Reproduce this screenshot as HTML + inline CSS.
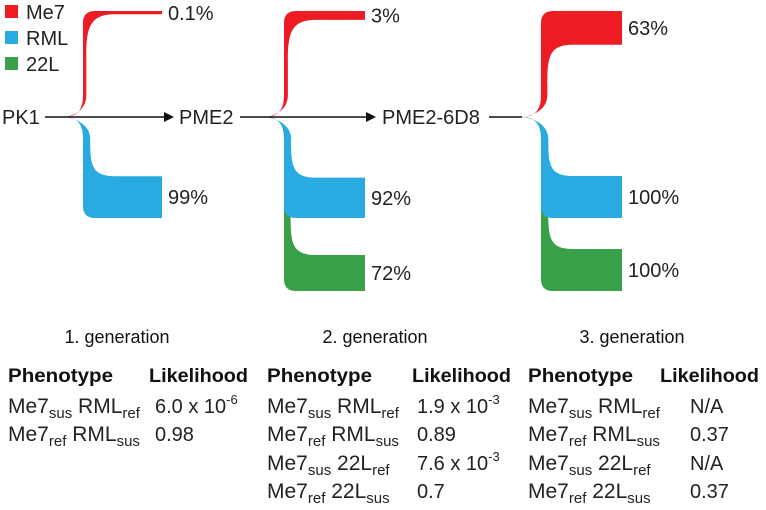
<!DOCTYPE html>
<html><head><meta charset="utf-8"><style>
html,body{margin:0;padding:0;background:#fff;}
svg{display:block;font-family:"Liberation Sans",sans-serif;}
</style></head><body>
<svg id="chart" width="766" height="510" viewBox="0 0 766 510">
  <g id="bands"></g>
  <g>
    <rect x="5" y="5" width="13" height="13" fill="#ed1c24"/>
    <text x="26" y="19" font-size="20" fill="#222">Me7</text>
    <rect x="5" y="31" width="13" height="13" fill="#29abe2"/>
    <text x="26" y="45" font-size="20" fill="#222">RML</text>
    <rect x="5" y="57" width="13" height="13" fill="#39a04a"/>
    <text x="26" y="71" font-size="20" fill="#222">22L</text>
  </g>
  <g stroke="#111" stroke-width="1.6">
    <line x1="45" y1="117" x2="166" y2="117"/>
    <polygon points="174,117 164,112 164,122" fill="#111" stroke="none"/>
    <line x1="240" y1="117" x2="368" y2="117"/>
    <polygon points="376,117 366,112 366,122" fill="#111" stroke="none"/>
    <line x1="489" y1="117" x2="522" y2="117"/>
  </g>
  <text x="2" y="124" font-size="20" fill="#222">PK1</text>
  <text x="179" y="124" font-size="20" fill="#222">PME2</text>
  <text x="382" y="124" font-size="20" fill="#222">PME2-6D8</text>
  <g id="pctlabels"></g>
  <g id="tables"></g>
</svg>
<script>
const generations = ["1. generation", "2. generation", "3. generation"];
const me7Pct = [0.1, 3, 63];
const rmlPct = [99, 92, 100];
const l22Pct = [null, 72, 100];
const me7Labels = ["0.1%", "3%", "63%"];
const rmlLabels = ["99%", "92%", "100%"];
const l22Labels = [null, "72%", "100%"];
const phenotypes = [
  [["Me7","sus","RML","ref"],["Me7","ref","RML","sus"]],
  [["Me7","sus","RML","ref"],["Me7","ref","RML","sus"],["Me7","sus","22L","ref"],["Me7","ref","22L","sus"]],
  [["Me7","sus","RML","ref"],["Me7","ref","RML","sus"],["Me7","sus","22L","ref"],["Me7","ref","22L","sus"]]
];
const likelihoods = [
  [["6.0 x 10","-6"],["0.98",""]],
  [["1.9 x 10","-3"],["0.89",""],["7.6 x 10","-3"],["0.7",""]],
  [["N/A",""],["0.37",""],["N/A",""],["0.37",""]]
];

const NS = "http://www.w3.org/2000/svg";
const originX = [62, 263, 520];
const endX = [162, 365, 622];
const Y0 = 117;
const thick = v => 2 + Math.sqrt(v) * 4;
const colors = {me7:"#ed1c24", rml:"#29abe2", l22:"#39a04a"};

function downBand(ox, ex, yb, t) {
  const v = 3 + t * 0.1, x1 = ox + 21;
  const top = yb - t;
  const sy = Math.max(138, top - 40);
  return `M${ox},${Y0} C${ox+14},${Y0} ${x1},${Y0+5} ${x1},${Y0+22} L${x1},${yb-12} Q${x1},${yb} ${x1+12},${yb} L${ex},${yb} L${ex},${top} L${x1+32},${top} C${x1+8},${top} ${x1+v},${top-12} ${x1+v},${sy} L${x1+v},${Y0+22} C${x1+v},${Y0+6} ${ox+10},${Y0} ${ox},${Y0} Z`;
}
function upBand(ox, ex, yt, t) {
  const v = 3 + t * 0.1, x1 = ox + 21;
  const bot = yt + t;
  const sy = Math.min(96, bot + 40);
  return `M${ox},${Y0} C${ox+14},${Y0} ${x1},${Y0-5} ${x1},${Y0-22} L${x1},${yt+12} Q${x1},${yt} ${x1+12},${yt} L${ex},${yt} L${ex},${bot} L${x1+32},${bot} C${x1+8},${bot} ${x1+v},${bot+12} ${x1+v},${sy} L${x1+v},${Y0-22} C${x1+v},${Y0-6} ${ox+10},${Y0} ${ox},${Y0} Z`;
}
const bands = document.getElementById("bands");
const pl = document.getElementById("pctlabels");
function addPath(d, fill, name) {
  const p = document.createElementNS(NS, "path");
  p.setAttribute("d", d); p.setAttribute("fill", fill);
  
  
  bands.appendChild(p);
}
function addLabel(x, y, txt, name) {
  const t = document.createElementNS(NS, "text");
  t.setAttribute("x", x); t.setAttribute("y", y); t.setAttribute("font-size", "20"); t.setAttribute("fill", "#222");
  t.textContent = txt;
  
  
  pl.appendChild(t);
}
for (let g = 0; g < generations.length; g++) {
  const ox = originX[g], ex = endX[g];
  if (l22Pct[g] !== null) {
    const t = thick(l22Pct[g]);
    addPath(downBand(ox, ex, 291, t), colors.l22, "band-22l-gen" + (g+1));
    addLabel(ex + 6, 291 - t/2 + 7, l22Labels[g], "label-22l-gen" + (g+1));
  }
  const tr = thick(rmlPct[g]);
  addPath(downBand(ox, ex, 218, tr), colors.rml, "band-rml-gen" + (g+1));
  addLabel(ex + 6, 218 - tr/2 + 7, rmlLabels[g], "label-rml-gen" + (g+1));
  const tm = thick(me7Pct[g]);
  addPath(upBand(ox, ex, 11, tm), colors.me7, "band-me7-gen" + (g+1));
  addLabel(ex + 6, Math.max(11 + tm/2 + 7, 20), me7Labels[g], "label-me7-gen" + (g+1));
}

const tables = document.getElementById("tables");
const genCenter = [117, 375, 632];
const phenoX = [8, 267, 528];
const headLikX = [149, 412, 660];
const valX = [155, 417, 690];
const rowY = [413, 441, 470, 498];
function txt(parent, x, y, size, weight, content, name) {
  const t = document.createElementNS(NS, "text");
  t.setAttribute("x", x); t.setAttribute("y", y); t.setAttribute("font-size", size);
  if (weight) t.setAttribute("font-weight", weight);
  t.setAttribute("fill", "#111");
  t.textContent = content;
  
  
  parent.appendChild(t);
  return t;
}
for (let g = 0; g < generations.length; g++) {
  const gl = txt(tables, genCenter[g], 343, 18, null, generations[g], "generation-title-" + (g+1));
  gl.setAttribute("text-anchor", "middle");
  const h1 = txt(tables, phenoX[g], 382, 19, "bold", "Phenotype", "header-phenotype-" + (g+1));
  h1.setAttribute("textLength", "105");
  h1.setAttribute("lengthAdjust", "spacingAndGlyphs");
  const h2 = txt(tables, headLikX[g], 382, 19, "bold", "Likelihood", "header-likelihood-" + (g+1));
  h2.setAttribute("textLength", "99");
  h2.setAttribute("lengthAdjust", "spacingAndGlyphs");
  phenotypes[g].forEach((ph, i) => {
    const t = document.createElementNS(NS, "text");
    t.setAttribute("x", phenoX[g]); t.setAttribute("y", rowY[i]); t.setAttribute("font-size", "21"); t.setAttribute("fill", "#222");
    t.innerHTML = `${ph[0]}<tspan font-size="15" dy="5">${ph[1]}</tspan><tspan dy="-5"> ${ph[2]}</tspan><tspan font-size="15" dy="5">${ph[3]}</tspan>`;
    
    
    tables.appendChild(t);
    const lk = likelihoods[g][i];
    const v = document.createElementNS(NS, "text");
    v.setAttribute("x", valX[g]); v.setAttribute("y", rowY[i]); v.setAttribute("font-size", "20"); v.setAttribute("fill", "#222");
    v.innerHTML = lk[1] ? `${lk[0]}<tspan font-size="13" dy="-9">${lk[1]}</tspan>` : lk[0];
    
    
    tables.appendChild(v);
  });
}
</script>
</body></html>
